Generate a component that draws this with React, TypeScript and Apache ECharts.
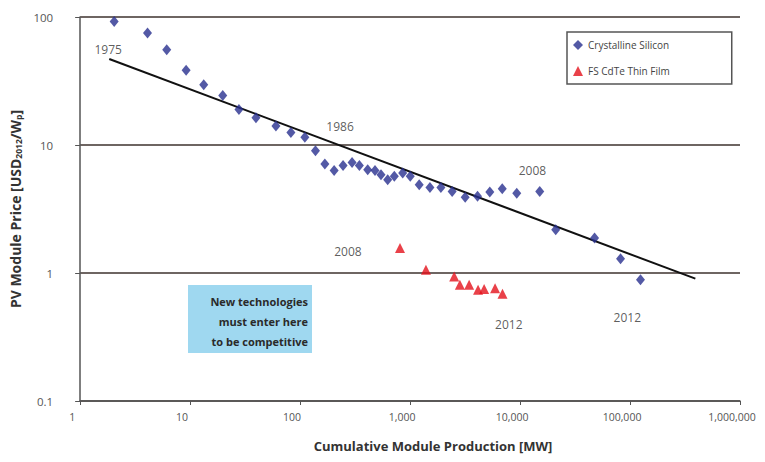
import React, { useEffect, useRef } from "react";
import * as echarts from "echarts";

const crystallineX = [2.04, 4.1, 6.13, 9.2, 13.3, 19.8, 27.8, 39.7, 60.3, 82.5, 110.5, 138, 168, 204, 246, 297, 346, 412, 480, 544, 626, 719, 857, 1004, 1211, 1516, 1907, 2414, 3170, 4107, 5310, 6890, 9333, 15100, 21100, 47600, 82000, 124500];
const crystallineY = [92.4, 75.0, 55.6, 38.3, 29.6, 24.4, 18.9, 16.3, 14.1, 12.5, 11.5, 9.02, 7.11, 6.33, 6.93, 7.31, 6.93, 6.41, 6.33, 5.86, 5.36, 5.69, 6.04, 5.69, 4.9, 4.66, 4.66, 4.34, 3.9, 3.97, 4.29, 4.56, 4.2, 4.34, 2.18, 1.88, 1.29, 0.887];

const cdteX = [810, 1394, 2518, 2837, 3445, 4155, 4713, 5929, 6925];
const cdteY = [1.57, 1.06, 0.94, 0.81, 0.81, 0.74, 0.75, 0.76, 0.69];

const trendX = [1.84, 392800];
const trendY = [47.0, 0.903];

const annotationLabels = ["1975", "1986", "2008", "2008", "2012", "2012"];
const annotationX = [1.8, 231, 12950, 272, 7900, 94400];
const annotationY = [55.6, 13.9, 6.33, 1.475, 0.395, 0.448];

const xTickLabels: Record<string, string> = {
  "1": "1",
  "10": "10",
  "100": "100",
  "1000": "1,000",
  "10000": "10,000",
  "100000": "100,000",
  "1000000": "1,000,000",
};

const boxLines = ["New technologies", "must enter here", "to be competitive"];

const FONT = "'Open Sans', 'Noto Sans', sans-serif";

export default function App() {
  const ref = useRef<HTMLDivElement>(null);
  useEffect(() => {
    if (!ref.current) return;
    const chart = echarts.init(ref.current, null, { renderer: "svg" });
    const option: any = {
      animation: false,
      backgroundColor: "#ffffff",
      textStyle: { fontFamily: FONT },
      grid: { left: 78, right: 25, top: 17, bottom: 61 },
      legend: {
        orient: "vertical",
        left: 567,
        top: 32,
        padding: [8, 62, 8, 6],
        itemGap: 16,
        itemWidth: 10,
        itemHeight: 10,
        borderColor: "#555555",
        borderWidth: 1.5,
        textStyle: { fontSize: 10, color: "#444444", fontFamily: FONT },
        data: [
          { name: "Crystalline Silicon", icon: "diamond" },
          { name: "FS CdTe Thin Film", icon: "triangle" },
        ],
      },
      xAxis: {
        type: "log",
        logBase: 10,
        min: 1,
        max: 1000000,
        name: "Cumulative Module Production [MW]",
        nameLocation: "middle",
        nameGap: 38,
        nameTextStyle: {
          fontSize: 13,
          fontWeight: "bold",
          color: "#333333",
          fontFamily: FONT,
          padding: [0, 0, 0, 46],
        },
        axisLine: { show: true, lineStyle: { color: "#555555", width: 1.5 } },
        axisTick: { show: true, length: 4, lineStyle: { color: "#555555" } },
        axisLabel: {
          fontSize: 10.5,
          color: "#555555",
          margin: 10,
          padding: [0, 16, 0, 0],
          formatter: (v: number) => xTickLabels[String(Math.round(v))] ?? String(v),
        },
        splitLine: { show: false },
        minorTick: { show: false },
      },
      yAxis: {
        type: "log",
        logBase: 10,
        min: 0.1,
        max: 100,
        name: "PV Module Price [USD{sub|2012}/W{sub|p}]",
        nameLocation: "middle",
        nameGap: 50,
        nameRotate: 90,
        nameTextStyle: {
          fontSize: 14,
          fontWeight: "bold",
          color: "#333333",
          fontFamily: FONT,
          rich: {
            sub: {
              fontSize: 8.5,
              fontWeight: "bold",
              color: "#333333",
              verticalAlign: "bottom",
              padding: [6, 0, 0, 0],
            },
          },
        },
        axisLine: { show: true, lineStyle: { color: "#555555", width: 1.5 } },
        axisTick: { show: true, length: 5, lineStyle: { color: "#555555" } },
        axisLabel: {
          fontSize: 11.5,
          color: "#555555",
          margin: 27,
          formatter: (v: number) => (v < 1 ? String(Math.round(v * 10) / 10) : String(Math.round(v))),
        },
        splitLine: { show: true, lineStyle: { color: "#6e6562", width: 2 } },
      },
      series: [
        {
          name: "Trend",
          type: "line",
          data: trendX.map((x, i) => [x, trendY[i]]),
          showSymbol: false,
          symbol: "none",
          lineStyle: { color: "#111111", width: 2 },
          z: 3,
        },
        {
          name: "Crystalline Silicon",
          type: "scatter",
          symbol: "diamond",
          symbolSize: [9, 11],
          itemStyle: { color: "#28308f" },
          data: crystallineX.map((x, i) => [x, crystallineY[i]]),
          z: 4,
        },
        {
          name: "FS CdTe Thin Film",
          type: "scatter",
          symbol: "triangle",
          symbolSize: [10, 10],
          itemStyle: { color: "#e3121b" },
          data: cdteX.map((x, i) => [x, cdteY[i]]),
          z: 4,
        },
        {
          name: "Labels",
          type: "scatter",
          symbolSize: 0,
          silent: true,
          data: annotationX.map((x, i) => ({ value: [x, annotationY[i]], name: annotationLabels[i] })),
          label: {
            show: true,
            position: "inside",
            formatter: (p: any) => p.name,
            fontSize: 12,
            color: "#333333",
            fontFamily: FONT,
          },
          z: 5,
        },
      ],
      graphic: [
        {
          type: "group",
          left: 188,
          top: 285,
          children: [
            {
              type: "rect",
              shape: { x: 0, y: 0, width: 124, height: 68 },
              style: { fill: "#9fd8f0" },
            },
            ...boxLines.map((t, i) => ({
              type: "text",
              x: 120,
              y: 16 + i * 20,
              style: {
                text: t,
                align: "right",
                verticalAlign: "middle",
                fontSize: 11,
                fontWeight: "bold",
                fill: "#2a2a2a",
                fontFamily: FONT,
              },
            })),
          ],
        },
      ],
    };
    chart.setOption(option);
    return () => chart.dispose();
  }, []);
  return <div ref={ref} style={{ width: 765, height: 462, margin: -8 }} />;
}
